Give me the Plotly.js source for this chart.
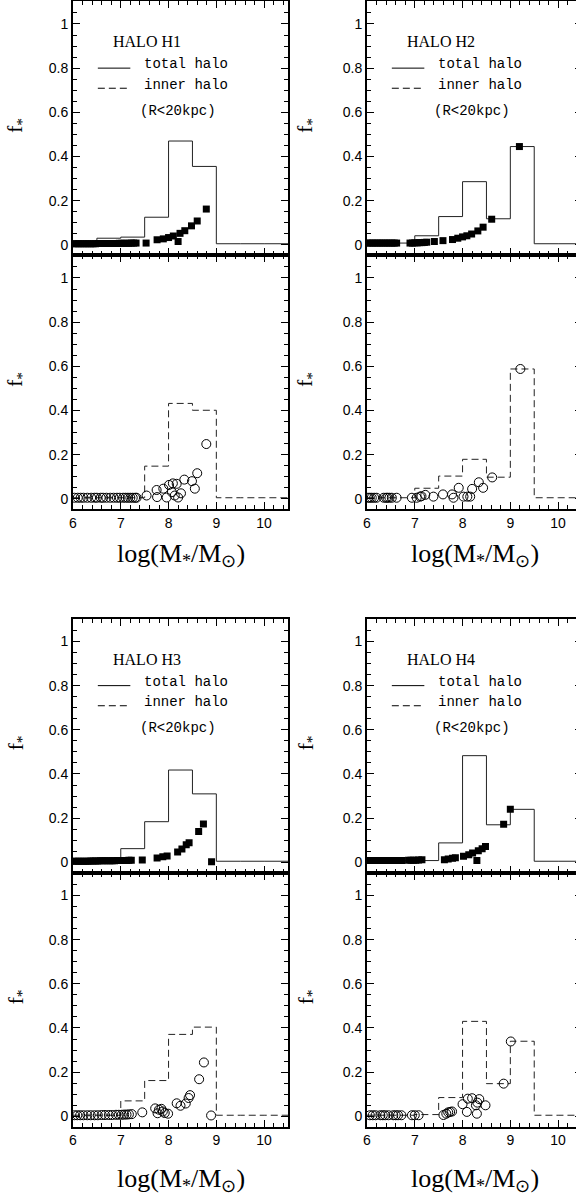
<!DOCTYPE html>
<html><head><meta charset="utf-8">
<script src="https://cdn.plot.ly/plotly-3.0.1.min.js"></script>
<style>html,body{margin:0;padding:0;overflow:hidden;background:#fff}#chart{width:590px;height:1195px}</style>
</head><body><div id="chart"></div><script>
// ---------- data ----------
const binEdges = [6, 6.5, 7, 7.5, 8, 8.5, 9, 9.5, 10, 10.5];

const h1Total = [0.005, 0.03, 0.035, 0.125, 0.47, 0.355, 0.005, 0.005, 0.005];
const h1Inner = [0.005, 0.005, 0.005, 0.148, 0.432, 0.401, 0.005, 0.005, 0.005];
const h2Total = [0.008, 0.008, 0.041, 0.128, 0.286, 0.118, 0.445, 0.005, 0.005];
const h2Inner = [0.005, 0.005, 0.048, 0.103, 0.179, 0.098, 0.588, 0.005, 0.005];
const h3Total = [0.005, 0.01, 0.062, 0.184, 0.418, 0.31, 0.005, 0.005, 0.005];
const h3Inner = [0.005, 0.005, 0.07, 0.162, 0.371, 0.404, 0.005, 0.005, 0.005];
const h4Total = [0.005, 0.008, 0.008, 0.088, 0.483, 0.17, 0.24, 0.005, 0.005];
const h4Inner = [0.005, 0.005, 0.008, 0.085, 0.43, 0.148, 0.34, 0.005, 0.005];

// satellites, total halo (filled squares)
const h1SqX = [6.02,6.07,6.12,6.17,6.22,6.27,6.32,6.37,6.42,6.47,6.52,6.57,6.62,6.67,6.72,6.77,6.82,6.87,6.92,6.97,7.02,7.07,7.12,7.17,7.22,7.27,7.32,7.53,7.76,7.89,8.0,8.1,8.2,8.24,8.34,8.48,8.6,8.79];
const h1SqY = [0.005,0.005,0.005,0.005,0.005,0.005,0.005,0.005,0.005,0.005,0.006,0.006,0.006,0.006,0.006,0.006,0.006,0.006,0.006,0.007,0.007,0.007,0.007,0.007,0.008,0.008,0.008,0.008,0.023,0.027,0.033,0.04,0.015,0.052,0.064,0.086,0.108,0.162];
const h2SqX = [6.02,6.07,6.12,6.17,6.22,6.27,6.32,6.37,6.42,6.47,6.52,6.57,6.62,6.9,6.95,7.0,7.05,7.1,7.15,7.2,7.25,7.41,7.59,7.79,7.9,8.0,8.09,8.19,8.32,8.43,8.61,9.19];
const h2SqY = [0.008,0.008,0.008,0.008,0.008,0.008,0.008,0.008,0.008,0.008,0.008,0.008,0.008,0.008,0.008,0.009,0.009,0.01,0.01,0.011,0.012,0.015,0.019,0.024,0.03,0.036,0.041,0.049,0.063,0.08,0.116,0.445];
const h3SqX = [6.02,6.07,6.12,6.17,6.22,6.27,6.32,6.37,6.42,6.47,6.52,6.57,6.62,6.67,6.72,6.77,6.82,6.87,6.92,6.97,7.02,7.07,7.12,7.17,7.22,7.45,7.76,7.88,7.97,8.19,8.28,8.37,8.43,8.63,8.73,8.9];
const h3SqY = [0.005,0.005,0.005,0.005,0.005,0.005,0.005,0.006,0.006,0.006,0.006,0.007,0.007,0.007,0.007,0.007,0.007,0.007,0.008,0.008,0.008,0.008,0.008,0.009,0.009,0.011,0.02,0.025,0.029,0.047,0.06,0.08,0.089,0.14,0.174,0.003];
const h4SqX = [6.03,6.08,6.13,6.18,6.23,6.28,6.33,6.38,6.43,6.48,6.53,6.58,6.63,6.68,6.73,6.87,6.92,6.97,7.02,7.08,7.15,7.62,7.7,7.79,7.85,8.02,8.13,8.21,8.3,8.33,8.41,8.48,8.86,9.0];
const h4SqY = [0.008,0.008,0.008,0.008,0.008,0.008,0.008,0.008,0.008,0.008,0.008,0.008,0.008,0.008,0.008,0.01,0.01,0.01,0.01,0.011,0.012,0.012,0.015,0.018,0.021,0.028,0.034,0.042,0.008,0.052,0.062,0.072,0.172,0.24];

// satellites, inner halo (open circles)
const h1CiX = [6.03,6.1,6.16,6.22,6.3,6.38,6.45,6.5,6.58,6.63,6.7,6.78,6.85,6.92,6.98,7.05,7.1,7.15,7.2,7.25,7.3,7.33,7.54,7.75,7.76,7.89,7.96,8.01,8.09,8.17,8.07,8.13,8.2,8.26,8.33,8.49,8.6,8.55,8.79];
const h1CiY = [0.005,0.005,0.005,0.005,0.005,0.005,0.005,0.005,0.005,0.005,0.005,0.005,0.005,0.005,0.005,0.005,0.005,0.005,0.005,0.005,0.005,0.005,0.015,0.04,0.008,0.046,0.006,0.063,0.07,0.068,0.03,0.015,0.006,0.025,0.087,0.08,0.116,0.046,0.248];
const h2CiX = [6.02,6.06,6.1,6.15,6.2,6.35,6.4,6.43,6.47,6.52,6.62,6.94,7.04,7.11,7.14,7.22,7.39,7.59,7.78,7.81,7.92,8.02,8.1,8.16,8.2,8.34,8.43,8.62,9.21];
const h2CiY = [0.005,0.005,0.005,0.005,0.005,0.005,0.005,0.005,0.005,0.005,0.005,0.005,0.005,0.01,0.012,0.018,0.01,0.02,0.02,0.005,0.05,0.01,0.01,0.01,0.045,0.075,0.05,0.097,0.588];
const h3CiX = [6.03,6.09,6.15,6.22,6.3,6.37,6.45,6.52,6.6,6.67,6.75,6.82,6.9,6.96,7.02,7.07,7.12,7.17,7.23,7.45,7.72,7.77,7.8,7.85,7.88,7.92,7.99,8.17,8.25,8.36,8.42,8.45,8.64,8.74,8.89];
const h3CiY = [0.005,0.005,0.005,0.005,0.005,0.005,0.005,0.005,0.006,0.006,0.006,0.006,0.007,0.007,0.007,0.008,0.008,0.009,0.01,0.018,0.036,0.014,0.03,0.034,0.022,0.015,0.012,0.059,0.048,0.058,0.083,0.096,0.168,0.244,0.004];
const h4CiX = [6.06,6.12,6.18,6.28,6.33,6.38,6.45,6.55,6.6,6.65,6.72,6.94,7.0,7.08,7.6,7.66,7.7,7.74,7.78,8.0,8.09,8.11,8.2,8.28,8.3,8.31,8.35,8.48,8.86,9.01];
const h4CiY = [0.005,0.005,0.005,0.005,0.005,0.005,0.005,0.005,0.005,0.005,0.005,0.005,0.005,0.005,0.006,0.012,0.018,0.02,0.022,0.055,0.02,0.08,0.082,0.05,0.012,0.062,0.078,0.05,0.148,0.339];

const haloNames = ['HALO H1', 'HALO H2', 'HALO H3', 'HALO H4'];
const legendLabels = ['total halo', 'inner halo', '(R&lt;20kpc)'];
const xTitle = 'log(M<sub>*</sub>/M<sub>⊙</sub>)';
const yTitle = 'f<sub>*</sub>';

// ---------- layout geometry ----------
const W = 590, H = 1195;
const fx = px => px / W;
const fy = py => 1 - py / H;
const colPx = {L: [73, 288], R: [367, 582]};
const rowPx = [[1, 255], [255, 509], [618.5, 872.5], [872.5, 1126.5]];

const panels = [
  {col: 'L', row: 0, hist: h1Total, px: h1SqX, py: h1SqY, kind: 'total', name: haloNames[0]},
  {col: 'L', row: 1, hist: h1Inner, px: h1CiX, py: h1CiY, kind: 'inner'},
  {col: 'R', row: 0, hist: h2Total, px: h2SqX, py: h2SqY, kind: 'total', name: haloNames[1]},
  {col: 'R', row: 1, hist: h2Inner, px: h2CiX, py: h2CiY, kind: 'inner'},
  {col: 'L', row: 2, hist: h3Total, px: h3SqX, py: h3SqY, kind: 'total', name: haloNames[2]},
  {col: 'L', row: 3, hist: h3Inner, px: h3CiX, py: h3CiY, kind: 'inner'},
  {col: 'R', row: 2, hist: h4Total, px: h4SqX, py: h4SqY, kind: 'total', name: haloNames[3]},
  {col: 'R', row: 3, hist: h4Inner, px: h4CiX, py: h4CiY, kind: 'inner'}
];

const DASH = '7px,4px';
const traces = [];
const layout = {
  width: W, height: H, margin: {l: 0, r: 0, t: 0, b: 0},
  paper_bgcolor: '#fff', showlegend: false,
  annotations: [], shapes: []
};
const tickFont = {family: 'Liberation Sans, Arial, sans-serif', size: 14, color: '#000'};
const serif = 'Liberation Serif, Times New Roman, serif';
const mono = 'Liberation Mono, Courier New, monospace';

const mkAxis = (dom, anchor, showLabels, isY) => ({
  domain: dom, anchor: anchor, range: isY ? [-0.046, 1.104] : [6, 10.5],
  tickmode: 'linear', tick0: isY ? 0 : 6, dtick: isY ? 0.2 : 1,
  ticks: 'inside', ticklen: 7, tickwidth: 1, tickcolor: '#000',
  showline: true, linewidth: 2, linecolor: '#000', mirror: 'allticks',
  showgrid: false, zeroline: false, showticklabels: showLabels, tickfont: tickFont,
  minor: {dtick: isY ? 0.05 : 0.2, ticks: 'inside', ticklen: 4, tickwidth: 1, tickcolor: '#000'}
});

panels.forEach((p, i) => {
  const n = i + 1;
  const xa = n === 1 ? 'x' : 'x' + n, ya = n === 1 ? 'y' : 'y' + n;
  const xk = n === 1 ? 'xaxis' : 'xaxis' + n;
  const yk = n === 1 ? 'yaxis' : 'yaxis' + n;
  const cp = colPx[p.col], rp = rowPx[p.row];
  const bottom = (p.row % 2 === 1);
  layout[xk] = mkAxis([fx(cp[0]), fx(cp[1])], ya, bottom, false);
  layout[yk] = mkAxis([fy(rp[1]), fy(rp[0])], xa, true, true);
  // histogram
  traces.push({
    type: 'scatter', mode: 'lines', xaxis: xa, yaxis: ya,
    x: binEdges, y: p.hist.concat([p.hist[p.hist.length - 1]]),
    line: {shape: 'hv', color: '#222', width: 1, dash: p.kind === 'total' ? 'solid' : DASH},
    hoverinfo: 'skip'
  });
  // points
  traces.push({
    type: 'scatter', mode: 'markers', xaxis: xa, yaxis: ya, x: p.px, y: p.py,
    marker: p.kind === 'total'
      ? {symbol: 'square', size: 7, color: '#000', line: {width: 0}}
      : {symbol: 'circle-open', size: 9, color: '#000', line: {width: 1, color: '#000'}}
  });
  // y title
  const xc = p.col === 'L' ? 16 : 306;
  layout.annotations.push({
    xref: 'paper', yref: 'paper', x: fx(xc), y: fy((rp[0] + rp[1]) / 2 - 2),
    text: yTitle, showarrow: false, textangle: -90, xanchor: 'center', yanchor: 'middle',
    font: {family: serif, size: 22, color: '#000'}
  });
  if (bottom) {
    layout.annotations.push({
      xref: 'paper', yref: 'paper', x: fx((cp[0] + cp[1]) / 2), y: fy(p.row === 1 ? 555 : 1180),
      text: xTitle, showarrow: false, xanchor: 'center', yanchor: 'middle',
      font: {family: serif, size: 26, color: '#000'}
    });
  } else {
    // legend block inside the top panels
    layout.annotations.push({
      xref: xa, yref: ya, x: 6.8, y: 0.92, text: p.name, showarrow: false,
      xanchor: 'left', yanchor: 'middle', font: {family: serif, size: 16, color: '#000'}
    });
    const lx = [7.44, 7.44, 7.36], ly = [0.818, 0.724, 0.606];
    legendLabels.forEach((t, k) => {
      layout.annotations.push({
        xref: xa, yref: ya, x: lx[k], y: ly[k], text: t, showarrow: false,
        xanchor: 'left', yanchor: 'middle', font: {family: mono, size: 14, color: '#000'}
      });
    });
    layout.shapes.push({type: 'line', xref: xa, yref: ya, x0: 6.52, x1: 7.2, y0: 0.8, y1: 0.8,
      line: {color: '#000', width: 1}});
    layout.shapes.push({type: 'line', xref: xa, yref: ya, x0: 6.52, x1: 7.2, y0: 0.709, y1: 0.709,
      line: {color: '#000', width: 1, dash: DASH}});
  }
});

Plotly.newPlot('chart', traces, layout, {staticPlot: true, displayModeBar: false});
</script></body></html>
